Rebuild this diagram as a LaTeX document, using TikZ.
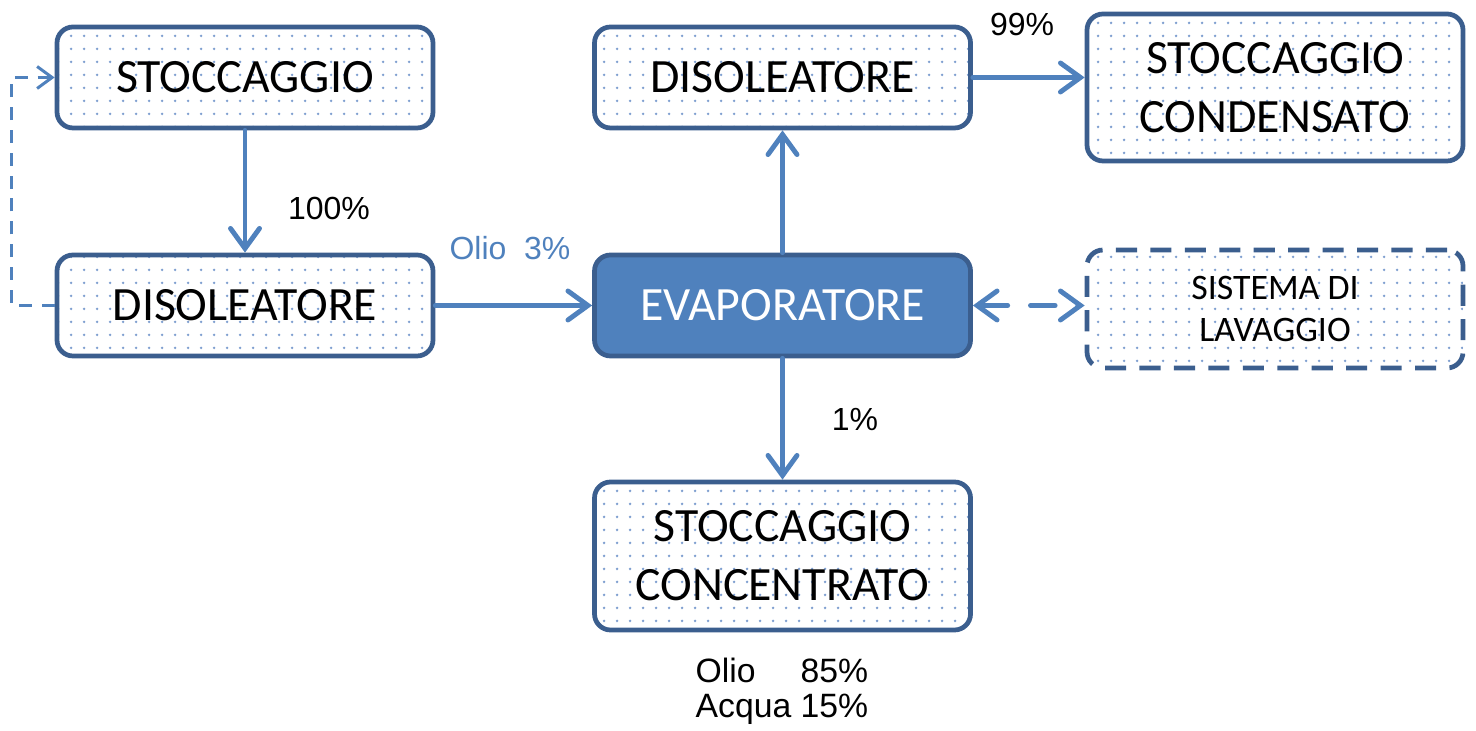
\documentclass[tikz,border=0pt]{standalone}
\usepackage{fontspec}
\setmainfont{Liberation Sans}
\newfontfamily\boxfont{Carlito}
\usetikzlibrary{arrows.meta,patterns.meta}

\definecolor{flowblue}{HTML}{4F81BD}
\definecolor{edgeblue}{HTML}{3B5E8E}
\definecolor{dotblue}{HTML}{7F9FD0}

\tikzdeclarepattern{
  name=sparsedots,
  type=uncolored,
  bounding box={(0pt,0pt) and (3.7pt,3.7pt)},
  tile size={(3.7pt,3.7pt)},
  code={\fill (1.85pt,1.85pt) circle (0.42pt);}
}

\begin{document}
\begin{tikzpicture}[
  unit/.style={rectangle,rounded corners=0.16cm,draw=edgeblue,line width=1.35pt,
    pattern=sparsedots,pattern color=dotblue,minimum width=3.76cm,minimum height=1.01cm,
    align=center,font=\boxfont\fontsize{13.6}{16.7}\selectfont},
  mainunit/.style={unit,fill=flowblue,text=white},
  washunit/.style={unit,dash pattern=on 6pt off 3.8pt,font=\boxfont\fontsize{10.2}{12.2}\selectfont},
  flow/.style={draw=flowblue,line width=1.4pt,line cap=round,
    -{Straight Barb[length=2mm,width=2.9mm,line cap=round]}},
  backflow/.style={draw=flowblue,line width=0.85pt,dash pattern=on 3.7pt off 2.8pt,
    -{Straight Barb[length=1.5mm,width=2.2mm]}},
  lbl/.style={font=\fontsize{9.1}{10.5}\selectfont}
]
\useasboundingbox (0,0) rectangle (14.76,7.31);

\node[unit] (stoc) at (2.45,6.535) {STOCCAGGIO};
\node[unit] (disleft) at (2.45,4.255) {DISOLEATORE};
\node[unit] (distop) at (7.825,6.535) {DISOLEATORE};
\node[unit,minimum height=1.47cm] (cond) at (12.75,6.435) {STOCCAGGIO\\CONDENSATO};
\node[mainunit] (evap) at (7.825,4.255) {EVAPORATORE};
\node[washunit,minimum height=1.18cm] (wash) at (12.75,4.22) {SISTEMA DI\\LAVAGGIO};
\node[unit,minimum height=1.48cm] (conc) at (7.825,1.75) {STOCCAGGIO\\CONCENTRATO};

% flows
\draw[flow] (stoc) -- (disleft);
\draw[flow] (disleft) -- (evap);
\draw[flow] (evap) -- (distop);
\draw[flow] (distop.east) -- (distop.east -| cond.west);
\draw[flow] (evap) -- (conc);
\draw[flow,{Straight Barb[length=2mm,width=2.9mm,line cap=round]}-{Straight Barb[length=2mm,width=2.9mm,line cap=round]},
  dash pattern=on 7pt off 6.5pt,dash phase=-1pt] (evap.east) -- (evap.east -| wash.west);
\draw[backflow] (disleft.west) -- ++(-0.43,0) |- (stoc.west);

% labels
\node[lbl] (pcent) at (3.29,5.22) {100\%};
\node[lbl,text=flowblue] (oil) at (5.10,4.83) {Olio\ \ 3\%};
\node[lbl] (ninetynine) at (10.22,7.06) {99\%};
\node[lbl] (one) at (8.55,3.11) {1\%};
\node[lbl,font=\fontsize{9.6}{10.5}\selectfont] (mix) at (7.82,0.385) {\begin{tabular}{@{}l@{\ }l@{}}Olio & 85\%\\[-0.5pt] Acqua & 15\%\end{tabular}};
\end{tikzpicture}
\end{document}
